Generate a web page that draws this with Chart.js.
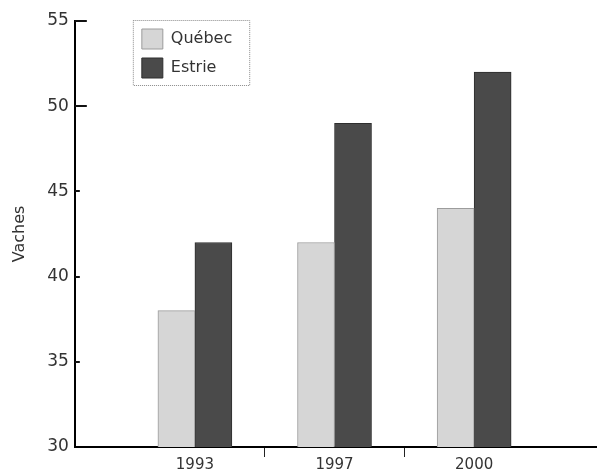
<!DOCTYPE html>
<html>
<head>
<meta charset="utf-8">
<script src="https://cdn.jsdelivr.net/npm/chart.js@4.4.1/dist/chart.umd.min.js"></script>
<style>
  html, body { margin: 0; padding: 0; background: #fff; }
  #contenedor { width: 597px; height: 474px; }
</style>
</head>
<body>
<div id="contenedor"><canvas id="grafico"></canvas></div>
<script>
// Datos del gráfico
let annees = ['1993', '1997', '2000'];
let quebec = [38, 42, 44];
let estrie = [42, 49, 52];
let vachesMin = 30;
let vachesMax = 55;
let vachesPas = 5;

// cada año se coloca en su índice sobre un eje lineal
let puntos = (valores) => valores.map((v, i) => ({ x: i, y: v }));

// marcas del eje x: etiquetas en los años, marcas entre ellos
let marcasX = [];
annees.forEach((a, i) => {
  marcasX.push(i);
  if (i < annees.length - 1) marcasX.push(i + 0.5);
});

// Plugin: mueve la leyenda dentro del gráfico, dibuja el marco punteado
// y las pequeñas marcas interiores del eje y
let cadreLegende = {
  id: 'cadreLegende',
  afterLayout(chart) {
    let leg = chart.legend;
    leg.left = chart.chartArea.left + 58;
    leg.top = chart.chartArea.top - 1;
  },
  afterDraw(chart) {
    let ctx = chart.ctx;
    let ejeY = chart.scales.y;
    ctx.save();
    ctx.strokeStyle = '#111';
    ctx.lineWidth = 2;
    ejeY.ticks.forEach((t) => {
      if (t.value <= vachesMin) return;
      let py = Math.round(ejeY.getPixelForValue(t.value));
      let largo = t.value >= 50 ? 12 : 5;
      ctx.beginPath();
      ctx.moveTo(ejeY.right, py);
      ctx.lineTo(ejeY.right + largo, py);
      ctx.stroke();
    });
    ctx.restore();

    let leg = chart.legend;
    let cajas = leg.legendHitBoxes;
    if (!cajas || !cajas.length) return;
    let ultima = cajas[cajas.length - 1];
    let alto = ultima.top + ultima.height + 7 - leg.top;
    ctx.save();
    ctx.strokeStyle = '#8a8a8a';
    ctx.lineWidth = 1;
    ctx.setLineDash([1, 1]);
    ctx.strokeRect(leg.left + 0.5, leg.top + 0.5, leg.width + 7, alto);
    ctx.restore();
  }
};

Chart.defaults.font.family = 'DejaVu Sans';
Chart.defaults.color = '#333';

let plotRef = document.getElementById('grafico');

let config = {
  type: 'bar',
  data: {
    datasets: [
      {
        label: 'Québec',
        data: puntos(quebec),
        backgroundColor: '#d6d6d6',
        borderColor: '#9c9c9c',
        borderWidth: 1
      },
      {
        label: 'Estrie',
        data: puntos(estrie),
        backgroundColor: '#4a4a4a',
        borderColor: '#2e2e2e',
        borderWidth: 1
      }
    ]
  },
  options: {
    responsive: true,
    maintainAspectRatio: false,
    animation: false,
    barThickness: 37,
    layout: { padding: { top: 21, left: 4, right: 0, bottom: 0 } },
    plugins: {
      tooltip: { enabled: false },
      legend: {
        position: 'chartArea',
        align: 'start',
        labels: {
          boxWidth: 21,
          boxHeight: 20,
          padding: 9,
          color: '#333',
          font: { size: 16 }
        }
      }
    },
    scales: {
      x: {
        type: 'linear',
        offset: false,
        min: -0.86,
        max: 2.88,
        afterBuildTicks: (eje) => { eje.ticks = marcasX.map(v => ({ value: v })); },
        ticks: {
          autoSkip: false,
          maxRotation: 0,
          padding: 1,
          color: '#333',
          font: { size: 15, lineHeight: 1 },
          callback: (valor) => Number.isInteger(valor) ? annees[valor] : ''
        },
        grid: {
          offset: false,
          drawOnChartArea: false,
          drawTicks: true,
          tickLength: 10,
          color: (c) => (c.tick && !Number.isInteger(c.tick.value)) ? '#222' : 'rgba(0,0,0,0)',
          lineWidth: 1
        },
        border: { display: true, color: '#000', width: 2 }
      },
      y: {
        min: vachesMin,
        max: vachesMax,
        ticks: {
          stepSize: vachesPas,
          padding: 6,
          color: '#333',
          font: { size: 17 }
        },
        grid: { display: false, drawTicks: false },
        border: { display: true, color: '#000', width: 2 },
        title: {
          display: true,
          text: 'Vaches',
          color: '#333',
          font: { size: 16 },
          padding: { top: 6, bottom: 12 }
        }
      }
    }
  },
  plugins: [cadreLegende]
};

new Chart(plotRef, config);
</script>
</body>
</html>
